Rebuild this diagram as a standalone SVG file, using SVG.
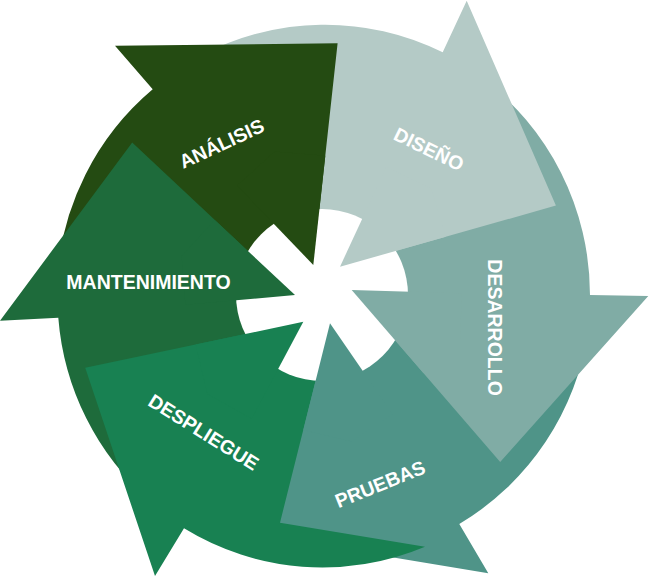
<svg xmlns="http://www.w3.org/2000/svg" width="650" height="579" viewBox="0 0 650 579">
<style>
.lbl{font-family:"Liberation Sans",Arial,sans-serif;font-size:19.5px;font-weight:bold;fill:#ffffff;text-anchor:middle}
.an{fill:#244b12}.di{fill:#b4cac6}.de{fill:#80aca5}.pr{fill:#4f9488}.ds{fill:#188152}.ma{fill:#1e6b3b}
</style>
<rect width="650" height="579" fill="#ffffff"/>
<g id="pruebas">
<path class="pr" d="M322,295 L588.3,330 A267,270 0 0 1 459.3,524 L488.3,573.3 L270,537 L330,323.3 Z"/>
</g>
<g id="desarrollo">
<path class="de" d="M322,295 L480,76.7 A267,270 0 0 1 590,295 L648.3,296 L500.2,461.9 L351.7,290 Z"/>
</g>
<g id="diseno">
<path class="di" d="M322,295 L200,56.1 A267,270 0 0 1 442.7,52.3 L466.7,0.7 L555.9,205.6 L340,266.7 Z"/>
</g>
<g id="analisis">
<path class="an" d="M322,295 L57,280 A267,270 0 0 1 152.7,89.3 L115,45.7 L337.6,43.3 L313.3,265 Z"/>
</g>
<g id="mantenimiento">
<path class="ma" d="M322,295 L150,500.7 A267,270 0 0 1 58.3,317.7 L0,320.7 L132.2,142.6 L295,295 Z"/>
</g>
<g id="despliegue">
<path class="ds" d="M303.3,321.7 L322,295 L330,323.3 L280,522.7 L425,546.7 A267,270 0 0 1 184,528.3 L155,576 L85.2,367.8 Z"/>
</g>
<g id="hub">
<circle cx="322" cy="295" r="86" fill="#ffffff"/>
<polygon class="an" points="313.3,265 325.3,155.7 274.7,151.4 237.2,185.6"/>
<polygon class="di" points="340,266.7 445.8,236.8 431.3,188.8 386.3,166.9"/>
<polygon class="de" points="351.7,290 423.6,373.3 460.1,341.5 461.7,293.2"/>
<polygon class="pr" points="330,323.3 303.3,430 351.4,441.4 392.4,413.9"/>
<polygon class="ds" points="303.3,321.7 195.7,344.5 207.4,393.9 251.6,418.8"/>
<polygon class="ma" points="295,295 214.7,219.9 181.6,255.9 185.4,304.7"/>
</g>
<g id="labels">
<text class="lbl" x="221.5" y="150.5" transform="rotate(-25 221.5 143.5)">ANÁLISIS</text>
<text class="lbl" x="429" y="156" transform="rotate(26 429 149)">DISEÑO</text>
<text class="lbl" x="494.7" y="334.6" transform="rotate(90 494.7 327.6)">DESARROLLO</text>
<text class="lbl" x="380" y="491" transform="rotate(-22 380 484)">PRUEBAS</text>
<text class="lbl" x="203.7" y="439" transform="rotate(32 203.7 432)">DESPLIEGUE</text>
<text class="lbl" x="148.5" y="289">MANTENIMIENTO</text>
</g>
</svg>
